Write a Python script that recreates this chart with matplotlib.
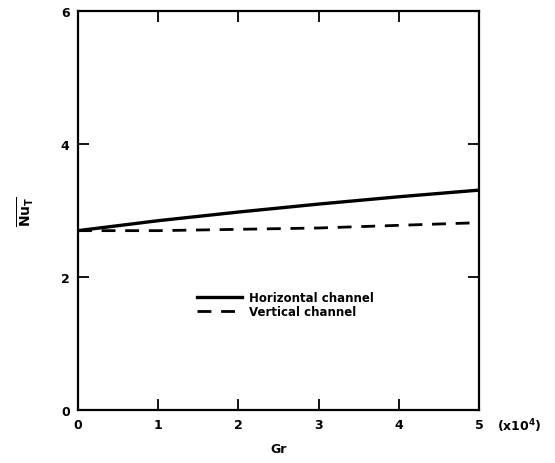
import numpy as np
import matplotlib.pyplot as plt

# Gr (x10^4) and mean Nusselt number
gr = [0, 1, 2, 3, 4, 5]
nu_horizontal = [2.70, 2.85, 2.98, 3.10, 3.21, 3.31]
nu_vertical = [2.70, 2.70, 2.72, 2.74, 2.78, 2.82]

plt.rcParams['font.family'] = 'DejaVu Sans'
plt.rcParams['font.weight'] = 'bold'

fig = plt.figure(figsize=(5.55, 4.64), dpi=100)
ax = fig.add_axes([0.1405, 0.1142, 0.7225, 0.859])

ax.plot(gr, nu_horizontal, color='black', lw=2.4, label='Horizontal channel')
ax.plot(gr, nu_vertical, color='black', lw=2.0, dashes=(5, 3.5), label='Vertical channel')

ax.set_xlim(0, 5)
ax.set_ylim(0, 6)
ax.set_xticks([0, 1, 2, 3, 4, 5])
ax.set_yticks([0, 2, 4, 6])
ax.tick_params(direction='in', length=8, width=1.3, top=True, right=True,
               labelsize=9, pad=6)
for s in ax.spines.values():
    s.set_linewidth(1.6)

ax.set_xlabel('Gr', fontsize=9, fontweight='bold', labelpad=8)
ax.set_ylabel(r'$\overline{\mathbf{Nu}_\mathbf{T}}$', fontsize=10, labelpad=18)
ax.text(1.045, -0.037, r'(x10$^\mathbf{4}$)', transform=ax.transAxes,
        fontsize=9, fontweight='bold', ha='left', va='center')

ax.legend(loc='upper left', bbox_to_anchor=(0.27, 0.325), frameon=False,
          handlelength=3.8, handletextpad=0.6, labelspacing=0.1,
          prop={'size': 8.5, 'weight': 'bold'})

fig.savefig('out.png', dpi=100)
